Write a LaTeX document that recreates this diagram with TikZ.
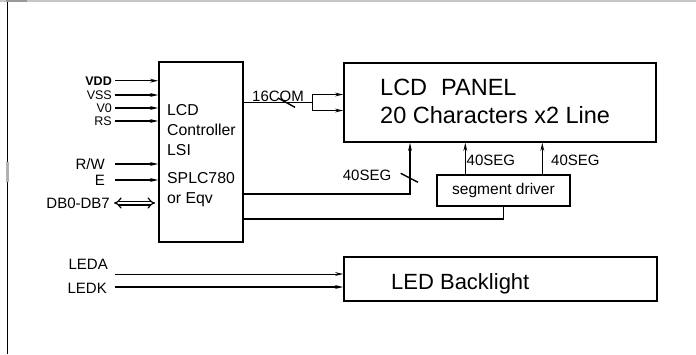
\documentclass[tikz,border=0pt]{standalone}
\usepackage{fontspec}
\setmainfont{Liberation Sans}
\usetikzlibrary{arrows.meta}

\tikzset{
	sig/.style={line width=1.4pt, -{Stealth[length=8pt,width=3.8pt]}},
	wire/.style={line width=1.4pt},
	blk/.style={draw, line width=1.7pt, inner sep=0pt},
	lbl/.style={inner sep=0pt, font=\fontsize{15}{18}\selectfont},
	pinlbl/.style={inner sep=0pt, font=\fontsize{12.5}{15}\selectfont},
}

\begin{document}
\begin{tikzpicture}[x=1pt,y=-1pt]
	\useasboundingbox (0,0) rectangle (696,354);
	%frame
	\fill[gray!45] (0,0) rectangle (696,2);
	\fill[gray!80] (6,0) rectangle (27,2);
	\draw[line width=1.4pt] (7.3,2) -- (7.3,354);
	\fill[gray!60] (5.8,162) rectangle (8.8,182);
	
	%blocks
	\node[blk, minimum width=84pt, minimum height=180pt] (ctrl) at (201,152) {};
	\node[blk, minimum width=312pt, minimum height=79pt] (panel) at (500,102.5) {};
	\node[blk, minimum width=133pt, minimum height=31pt, font=\fontsize{15.5}{18}\selectfont] (drv) at (503.5,190.3) {segment driver};
	\node[blk, minimum width=313pt, minimum height=44pt] (led) at (500.5,279) {};
	
	%block texts
	\foreach \t/\y [count=\i] in {LCD/115.5, Controller/135.5, LSI/155.5, SPLC780/183.5, or Eqv/203.5}{
		\node[lbl, font=\fontsize{15.8}{18}\selectfont, anchor=base west] (ctrl-\i) at (167,\y){\t};
	}
	\node[lbl, font=\fontsize{23.5}{28}\selectfont, anchor=base west] (panel-1) at (380,95.1){LCD\hspace{14pt}PANEL};
	\node[lbl, font=\fontsize{23.5}{28}\selectfont, anchor=base west] (panel-2) at (380,123.4){20 Characters x2 Line};
	\node[lbl, font=\fontsize{22}{26}\selectfont, anchor=base west] (led-1) at (391,289.6){LED Backlight};
	
	%controller pins
	\foreach \s/\y [count=\i] in {{\textbf{VDD}}/80.7, VSS/95, V0/108, RS/121}{
		\node[pinlbl, anchor=east] (pin-\i) at (112,\y){\s};
		\draw[sig, shorten <=3pt] (pin-\i.east) -- (pin-\i.east -| ctrl.west);
	}
	\foreach \s/\y [count=\i] in {{R/W}/164, E/180}{
		\node[lbl, anchor=east] (bus-\i) at (105,\y){\s};
		\draw[sig, shorten <=10pt] (bus-\i.east) -- (bus-\i.east -| ctrl.west);
	}
	\node[lbl, anchor=east] (db) at (110,203){DB0-DB7};
	\draw[double, double distance=2.6pt, line width=1.2pt, {Implies}-{Implies}, shorten <=4pt, shorten >=3pt] (db.east) -- (db.east -| ctrl.west);
	
	%16COM
	\coordinate (com) at (312.7,102.5);
	\draw[wire] (ctrl.east |- com) -- (com);
	\draw[sig] (com) |- ([yshift=8pt]panel.west);
	\draw[sig] (com) |- ([yshift=-8pt]panel.west);
	\draw[wire] (278,98) -- (295,107.3);
	\node[lbl] (com-lbl) at (278,96){16COM};
	
	%40SEG from controller
	\coordinate (seg) at (410,194);
	\draw[sig] (ctrl.east |- seg) -- (seg) -- (seg |- panel.south);
	\draw[wire] (400.7,173.3) -- (418,182.3);
	\node[lbl] (seg-lbl) at (367,175){40SEG};
	
	%segment driver
	\draw[sig] ([xshift=-38.2pt]drv.north) -- ([xshift=-38.2pt]drv.north |- panel.south);
	\draw[sig] ([xshift=38.8pt]drv.north) -- ([xshift=38.8pt]drv.north |- panel.south);
	\node[lbl, anchor=west] (drv-lbl1) at (466.5,160){40SEG};
	\node[lbl, anchor=west] (drv-lbl2) at (551,160){40SEG};
	\coordinate (drvin) at (drv.south |- 0,219);
	\draw[wire] (ctrl.east |- drvin) -- (drvin) -- (drv.south);
	
	%backlight
	\node[lbl, anchor=east] (leda) at (108,264){LEDA};
	\node[lbl, anchor=east] (ledk) at (107,288){LEDK};
	\coordinate (leda-in) at (115,274);
	\coordinate (ledk-in) at (115,287);
	\draw[sig, line width=1pt] (leda-in) -- (leda-in -| led.west);
	\draw[sig] (ledk-in) -- (ledk-in -| led.west);
\end{tikzpicture}
\end{document}
